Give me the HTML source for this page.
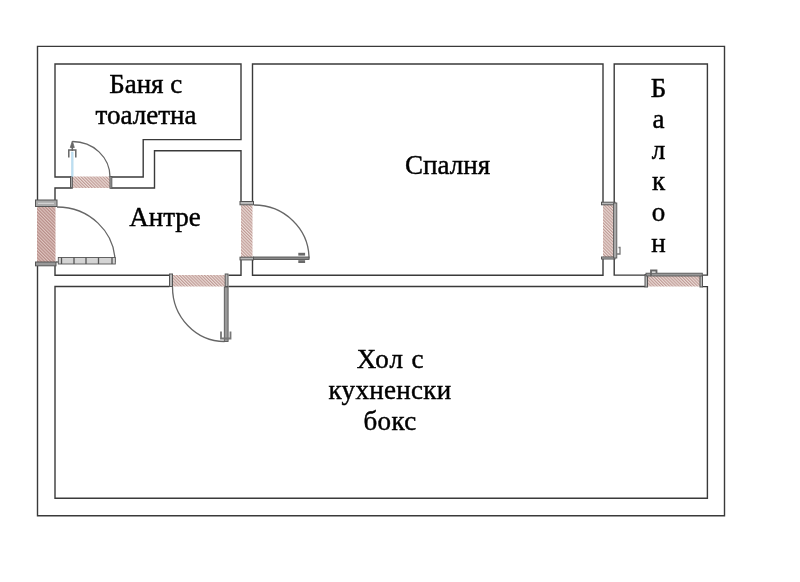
<!DOCTYPE html>
<html><head><meta charset="utf-8">
<style>
html,body{margin:0;padding:0;background:#fff;width:800px;height:582px;overflow:hidden}
svg{position:absolute;left:0;top:0;will-change:transform}
text{font-family:"Liberation Serif",serif;font-size:27px;fill:#000;stroke:#000;stroke-width:0.45}
</style></head><body>
<svg width="800" height="582" viewBox="0 0 800 582">
<defs>
<pattern id="h" patternUnits="userSpaceOnUse" width="2.2" height="2.2" patternTransform="rotate(-45)">
<rect width="2.2" height="2.2" fill="#ebdcd7"/>
<rect width="1.1" height="2.2" fill="#bf9b96"/>
</pattern>
<pattern id="h2" patternUnits="userSpaceOnUse" width="2.3" height="2.3" patternTransform="rotate(-45)">
<rect width="2.3" height="2.3" fill="#dfc6c1"/>
<rect width="1.2" height="2.3" fill="#b78d88"/>
</pattern>
</defs>
<!-- door hatches -->
<g fill="url(#h)">
<rect x="72" y="176.5" width="38" height="11.5"/>
<rect x="37" y="206.5" width="18.5" height="55.5" fill="url(#h2)"/>
<rect x="241" y="204.5" width="11.5" height="53"/>
<rect x="173" y="275" width="52" height="11.5"/>
<rect x="603" y="204.5" width="10.5" height="52.5"/>
<rect x="647.5" y="276" width="52.5" height="10.5"/>
</g>
<g fill="none" stroke="#3a3a3a" stroke-width="1.4">
<!-- outer -->
<path d="M37.5,200 V46.4 H724.5 V515.7 H37.5 V266"/>
<!-- bathroom -->
<polyline points="70.5,177 55,177 55,64 241,64 241,139.6 143.2,139.6 143.2,177 111.5,177"/>
<!-- antre -->
<polyline points="70.5,188 55,188 55,200"/>
<polyline points="55,266 55,275.3 169.5,275.3"/>
<polyline points="111.5,188 154.5,188 154.5,150.8 241,150.8 241,201.5"/>
<polyline points="241,259.5 241,275.3 228.5,275.3"/>
<!-- bedroom -->
<polyline points="252.5,201.5 252.5,64 603,64 603,202.5"/>
<polyline points="603,258.5 603,275.3 252.5,275.3 252.5,259.5"/>
<!-- balcony -->
<polyline points="614.2,202.5 614.2,64 707.4,64 707.4,275.1 702.5,275.1"/>
<polyline points="645,275.1 614.2,275.1 614.2,258.5"/>
<!-- hall -->
<polyline points="169.5,286.5 55,286.5 55,498.3 707.4,498.3 707.4,286.6 702.5,286.6"/>
<polyline points="228.5,286.5 645,286.5"/>
</g>
<!-- jambs -->
<g fill="#b8b8b8" stroke="#555" stroke-width="1">
<rect x="70.5" y="176.5" width="1.8" height="11.8"/>
<rect x="110" y="176.5" width="1.8" height="11.8"/>
<rect x="35.5" y="200" width="21.5" height="6.5" fill="#aaa"/><path d="M38,203.3 H54" stroke="#ddd" stroke-width="1"/>
<rect x="35.5" y="262" width="20.5" height="3.8" fill="#999"/>
<rect x="169.5" y="274" width="3" height="12.5"/>
<rect x="225.2" y="274" width="2.8" height="12.5"/>
<rect x="240" y="201.5" width="13.5" height="3.3"/>
<rect x="240" y="257.2" width="13.5" height="2.7"/>
<rect x="601.5" y="202.2" width="13.5" height="2.6"/>
<rect x="601.5" y="257" width="13.5" height="2"/>
<rect x="645" y="274.5" width="2.5" height="12.5"/>
<rect x="700" y="275.5" width="2.5" height="11.5"/>
</g>
<!-- door arcs -->
<g fill="none" stroke="#666" stroke-width="1.3">
<path d="M72.5,141.5 A37.5,35.5 0 0 1 110,177"/>
<path d="M57,207 A58,55 0 0 1 115,262"/>
<path d="M254,205 A55,53.5 0 0 1 309,258.5"/>
<path d="M172.5,287 A52,54.5 0 0 0 224.5,341.5"/>
</g>
<!-- door leaves -->
<g stroke="#555" stroke-width="0.9">
<rect x="71.5" y="152" width="1.6" height="24.5" fill="#bfe0f2" stroke="#9fcbe4" stroke-width="0.4"/>
<path d="M72.3,141 L70.3,147.5 H74.3 Z" fill="#666" stroke="#666" stroke-width="0.8"/>
<path d="M72.3,146 V151" fill="none" stroke="#666" stroke-width="1.6"/>
<path d="M68.8,157.5 V150 H75.8 V157.5" fill="none" stroke="#666" stroke-width="1.5"/>
<rect x="58.3" y="257.5" width="57" height="6.5" fill="#d4d4d4"/>
<path d="M61.5,257.5 V264 M74,257.5 V264 M86,257.5 V264 M98.5,257.5 V264 M112,257.5 V264" stroke="#555" stroke-width="1.3"/>
<path d="M56,262 H58.3" stroke="#555" stroke-width="1.2"/>
<rect x="253.5" y="257" width="55.5" height="2.5" fill="#888"/>
<rect x="298.3" y="252.8" width="6.8" height="2.8" fill="#6a6a6a" stroke="none"/>
<rect x="298.3" y="260.2" width="6.8" height="2.8" fill="#6a6a6a" stroke="none"/>
<rect x="224.3" y="287" width="3.8" height="54.5" fill="#999"/>
<path d="M221,331.5 V338.5 H230.5 V331.5" fill="none" stroke="#777" stroke-width="1.8"/>
<rect x="613.6" y="203" width="3.2" height="55" fill="#aaa"/>
<path d="M618.5,247.5 H620 V254 H617" fill="none" stroke="#777" stroke-width="1.3"/>
<rect x="646" y="273.2" width="56.3" height="2.8" fill="#999"/>
<path d="M651,276 V270.5 H656.5 V273" fill="none" stroke="#666" stroke-width="1.8"/>
</g>
<text x="145.7" y="93" text-anchor="middle">Баня с</text>
<text x="146" y="124" text-anchor="middle">тоалетна</text>
<text x="165" y="225.6" text-anchor="middle">Антре</text>
<text x="447.6" y="174" text-anchor="middle">Спалня</text>
<text x="390.5" y="368" text-anchor="middle" letter-spacing="0.9">Хол с</text>
<text x="390" y="398.7" text-anchor="middle" letter-spacing="0.3">кухненски</text>
<text x="390" y="430.2" text-anchor="middle" letter-spacing="0.3">бокс</text>
<text x="658.5" y="96.6" text-anchor="middle">Б</text>
<text x="658.5" y="127.5" text-anchor="middle">а</text>
<text x="658.5" y="158.5" text-anchor="middle">л</text>
<text x="658.5" y="189.5" text-anchor="middle">к</text>
<text x="658.5" y="220.5" text-anchor="middle">о</text>
<text x="658.5" y="251.5" text-anchor="middle">н</text>
</svg>
</body></html>
